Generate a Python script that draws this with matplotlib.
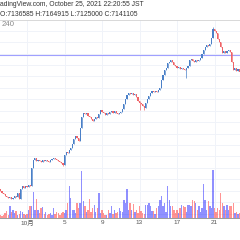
import matplotlib
matplotlib.use("Agg")
import matplotlib.pyplot as plt

plt.rcParams['font.family'] = ['Liberation Sans', 'Noto Sans CJK JP', 'DejaVu Sans']

# BTC/JPY 4h candles, prices in thousand JPY
first_open = 4830
closes = [
    4795, 4760, 4743, 4708, 4690, 4673, 4690, 4655, 4673, 4708,
    4690, 4760, 4655, 4830, 4883, 4848, 4883, 4865, 4900, 4883,
    5198, 5338, 5373, 5320, 5338, 5320, 5303, 5338, 5320, 5338,
    5320, 5303, 5338, 5355, 5373, 5355, 5338, 5320, 5303, 5285,
    5250, 5425, 5478, 5460, 5513, 5548, 5618, 5705, 5758, 5723,
    5670, 5898, 6090, 6160, 6143, 6160, 6108, 6090, 6055, 6020,
    6055, 6090, 6073, 6143, 6213, 6178, 6160, 6125, 6160, 6143,
    6178, 6195, 6160, 6195, 6160, 6143, 6160, 6178, 6230, 6318,
    6405, 6475, 6510, 6493, 6510, 6475, 6493, 6440, 6370, 6335,
    6318, 6283, 6248, 6335, 6405, 6458, 6510, 6545, 6528, 6545,
    6528, 6563, 6598, 6738, 6825, 6913, 6948, 7035, 7053, 7088,
    7053, 7000, 6983, 6948, 6965, 6930, 6948, 6930, 6913, 6948,
    6983, 7088, 7105, 7070, 7053, 7088, 7070, 7088, 7123, 7193,
    7263, 7315, 7350, 7333, 7368, 7473, 7630, 7595, 7560, 7455,
    7403, 7315, 7210, 7245, 7210, 7245, 7263, 7228, 7053, 6913,
    6948, 6895, 6930, 6878,
]
# wicks that reach clearly beyond the body
wick_lows = {40: 5233, 89: 6213, 92: 6213, 119: 6773}
wick_highs = {136: 7665}

volumes = [
    3, 2, 3, 5, 7, 3, 12, 6, 8, 5,
    7, 3, 4, 7, 6, 4, 3, 4, 8, 12,
    12, 26, 8, 19, 8, 5, 10, 11, 4, 6,
    3, 4, 5, 3, 10, 4, 6, 5, 3, 5,
    6, 5, 8, 15, 32, 20, 8, 8, 5, 15,
    10, 15, 47, 17, 12, 6, 8, 19, 6, 10,
    13, 6, 10, 25, 5, 8, 5, 3, 3, 8,
    5, 12, 4, 8, 5, 6, 10, 7, 6, 18,
    15, 29, 8, 15, 8, 14, 6, 8, 5, 12,
    7, 5, 4, 13, 13, 15, 12, 7, 7, 4,
    10, 12, 18, 22, 12, 15, 6, 32, 18, 12,
    12, 8, 5, 8, 5, 10, 13, 12, 11, 6,
    13, 13, 12, 18, 17, 15, 8, 12, 6, 10,
    34, 18, 8, 17, 12, 10, 48, 10, 6, 10,
    8, 25, 15, 12, 8, 13, 8, 12, 12, 15,
    5, 6, 4, 5,
]

h_line_price = 7175
day_ticks = [17, 41, 65, 89, 113, 137]
day_labels = ["10月", "5", "9", "13", "17", "21"]
grid_prices = list(range(4400, 7801, 200))

header1 = "adingView.com, October 25, 2021 22:20:55 JST"
header2 = "O:7136585 H:7164915 L:7125000 C:7141105"
interval = "240"

up_col = "#4a80c8"
down_col = "#f06468"
vol_up = "#2222ff"
vol_down = "#ff2a2a"

opens = [first_open] + closes[:-1]
idx = list(range(len(closes)))
ups = [c >= o for o, c in zip(opens, closes)]
highs = [wick_highs.get(i, max(o, c)) for i, (o, c) in enumerate(zip(opens, closes))]
lows = [wick_lows.get(i, min(o, c)) for i, (o, c) in enumerate(zip(opens, closes))]

fig = plt.figure(figsize=(2.4, 2.4), dpi=100)
fig.patch.set_facecolor("white")
ax = fig.add_axes([0, 22 / 240, 1, 198 / 240])
ax.set_xlim(-0.3, 153.3)
ax.set_ylim(4322, 7787)

for p in grid_prices:
    ax.axhline(p, color="#f0f3f9", lw=0.7, zorder=0)
for t in day_ticks:
    ax.axvline(t, color="#f0f3f9", lw=0.7, zorder=0)

ax.axhline(h_line_price, color="#a0a0ff", lw=0.8, zorder=1)

cols = [up_col if u else down_col for u in ups]
ax.vlines(idx, lows, highs, colors=cols, lw=0.5, zorder=2)
ax.bar(idx, [max(abs(c - o), 8) for o, c in zip(opens, closes)],
       bottom=[min(o, c) for o, c in zip(opens, closes)],
       width=0.7, color=cols, linewidth=0, zorder=3)

ax.set_yticks([])
ax.set_xticks(day_ticks)
ax.set_xticklabels(day_labels, fontsize=4.6, color="#555555")
ax.tick_params(axis="x", length=0, pad=1.5)
for s in ["left", "right"]:
    ax.spines[s].set_visible(False)
ax.spines["top"].set_color("#d8d8d8")
ax.spines["top"].set_linewidth(0.7)
ax.spines["bottom"].set_color("#9a9a9a")
ax.spines["bottom"].set_linewidth(0.7)

ax_vol = ax.twinx()
ax_vol.set_ylim(0, 198)
ax_vol.bar(idx, volumes, width=0.85, color=[vol_up if u else vol_down for u in ups],
           alpha=0.5, linewidth=0)
ax_vol.set_yticks([])
for s in ax_vol.spines.values():
    s.set_visible(False)

fig.text(0.5 / 240, 1 - 5 / 240, header1, fontsize=4.9, color="#333333", va="center", ha="left")
fig.text(0.5 / 240, 1 - 14 / 240, header2, fontsize=4.9, color="#333333", va="center", ha="left")
fig.text(2 / 240, 1 - 25 / 240, interval, fontsize=5.6, color="#8a8a8a", va="center", ha="left")

fig.savefig("out.png", dpi=100, facecolor="white")
